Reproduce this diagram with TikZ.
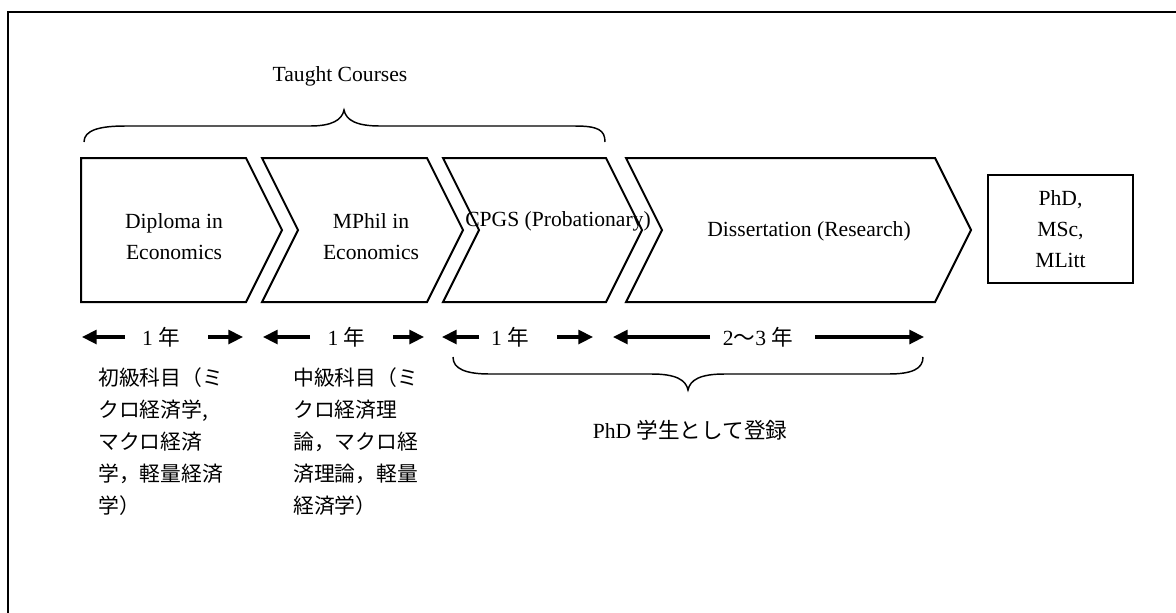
\documentclass[tikz,border=0pt]{standalone}
\usepackage{fontspec}
\setmainfont{Liberation Serif}
\newfontfamily\jp{Noto Sans CJK JP}
\usetikzlibrary{arrows.meta}
\begin{document}
\begin{tikzpicture}[x=0.75pt,y=-0.75pt,
  frame/.style={draw,line width=1.5pt},
  chev/.style={draw,line width=1.5pt,line join=miter},
  lbl/.style={font=\fontsize{16.2}{23.25}\selectfont,align=center,inner sep=0pt},
  jpblock/.style={font=\jp\fontsize{15.6}{24}\selectfont,align=left,inner sep=0pt,anchor=north west},
  brc/.style={draw,line width=1.1pt},
  dimarr/.style={line width=2.3pt,-{Triangle[length=11pt,width=10.5pt]}},
  degree/.style={draw,line width=1.5pt,minimum width=108.3pt,minimum height=81.2pt,inner sep=0pt,
    font=\fontsize{16.2}{23.25}\selectfont,align=center}
]
\useasboundingbox (0,0) rectangle (1176,612);
\clip (0,0) rectangle (1176,612);
\draw[frame] (8,12) rectangle (1200,640);

% title and top brace
\node[lbl] (taught) at (340,76) {Taught Courses};
\draw[brc] (84,142) .. controls (84,130) and (100,126) .. (125,126) -- (310,126)
  .. controls (332,126) and (342,120) .. (344,110)
  .. controls (346,120) and (356,126) .. (380,126) -- (575,126)
  .. controls (598,126) and (605,130) .. (605,142);

% chevrons
\draw[chev] (81,158) -- (246,158) -- (282,230) -- (246,302) -- (81,302) -- cycle;
\draw[chev] (262,158) -- (427,158) -- (463,230) -- (427,302) -- (262,302) -- (298,230) -- cycle;
\draw[chev] (443,158) -- (606,158) -- (642,230) -- (606,302) -- (443,302) -- (479,230) -- cycle;
\draw[chev] (626,158) -- (935,158) -- (971,230) -- (935,302) -- (626,302) -- (662,230) -- cycle;

\node[lbl] (dip) at (174,237) {Diploma in\\Economics};
\node[lbl] (mph) at (371,237) {MPhil in\\Economics};
\node[lbl] (cpgs) at (558,221) {CPGS (Probationary)};
\node[lbl] (diss) at (809,231) {Dissertation (Research)};
\node[degree] (deg) at (1060.5,229) {PhD,\\MSc,\\MLitt};

% duration row
\node[lbl] (y1) at (161,337) {1 {\jp 年}};
\node[lbl] (y2) at (346.5,337) {1 {\jp 年}};
\node[lbl] (y3) at (510,337) {1 {\jp 年}};
\node[lbl] (y4) at (758,337) {2{\jp 〜}3 {\jp 年}};

\coordinate (a1t) at (125,337); \coordinate (a1h) at (82,337);
\coordinate (b1t) at (208,337); \coordinate (b1h) at (243,337);
\coordinate (a2t) at (310,337); \coordinate (a2h) at (263,337);
\coordinate (b2t) at (393,337); \coordinate (b2h) at (424,337);
\coordinate (a3t) at (479,337); \coordinate (a3h) at (442,337);
\coordinate (b3t) at (557,337); \coordinate (b3h) at (593,337);
\coordinate (a4t) at (710,337); \coordinate (a4h) at (613,337);
\coordinate (b4t) at (815,337); \coordinate (b4h) at (924,337);
\foreach \s/\e in {a1t/a1h,b1t/b1h,a2t/a2h,b2t/b2h,a3t/a3h,b3t/b3h,a4t/a4h,b4t/b4h}
  \draw[dimarr] (\s) -- (\e);

% bottom brace
\draw[brc] (453,357) .. controls (453,369) and (466,374) .. (490,374) -- (652,374)
  .. controls (676,374) and (686,380) .. (688,390)
  .. controls (690,380) and (700,374) .. (724,374) -- (888,374)
  .. controls (912,374) and (923,369) .. (923,357);
\node[lbl] (reg) at (690,430) {PhD {\jp 学生として登録}};

% course contents
\node[jpblock] (c1) at (98,367) {初級科目（ミ\\クロ経済学,\\マクロ経済\\学，軽量経済\\学）};
\node[jpblock] (c2) at (293,367) {中級科目（ミ\\クロ経済理\\論，マクロ経\\済理論，軽量\\経済学）};
\end{tikzpicture}
\end{document}
